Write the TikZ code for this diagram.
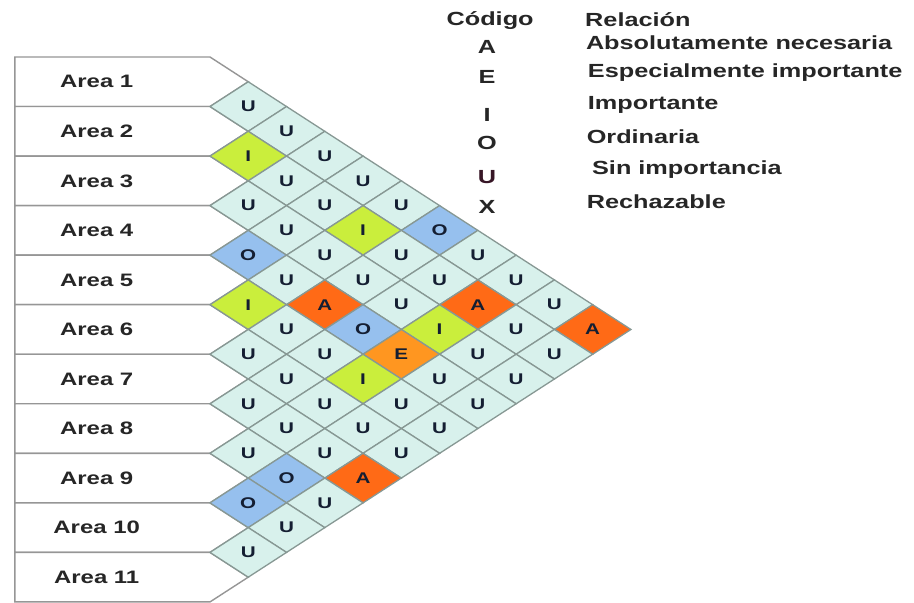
\documentclass[tikz,border=0pt]{standalone}
\usepackage{fontspec}
\setmainfont[FakeStretch=1.33]{Liberation Sans}
\usepackage{tikz}
\usetikzlibrary{shapes.geometric}
\definecolor{gridgray}{RGB}{135,152,148}
\definecolor{boxgray}{RGB}{150,150,150}
\definecolor{lettercol}{RGB}{20,30,50}
\definecolor{colA}{RGB}{255,106,22}
\definecolor{colE}{RGB}{255,150,32}
\definecolor{colI}{RGB}{202,238,60}
\definecolor{colO}{RGB}{150,192,238}
\definecolor{colU}{RGB}{216,241,236}
\tikzstyle{areabox} = [draw=boxgray, fill=white, line width=1.4pt, line join=miter]
\tikzstyle{arealabel} = [font={\fontsize{18}{18}\selectfont\bfseries}, text=black!85]
\tikzstyle{rel} = [diamond, draw=gridgray, line width=1.3pt, minimum width=76.54pt, minimum height=49.54pt, inner sep=0pt, outer sep=0pt, font={\fontsize{15.5}{15.5}\selectfont\bfseries}, text=lettercol]
\tikzstyle{codea} = [rel, fill=colA]
\tikzstyle{codee} = [rel, fill=colE]
\tikzstyle{codei} = [rel, fill=colI]
\tikzstyle{codeo} = [rel, fill=colO]
\tikzstyle{codeu} = [rel, fill=colU]
\tikzstyle{legend} = [inner sep=0pt, font={\fontsize{19}{19}\selectfont\bfseries}, text=black!85]

\begin{document}
\begin{tikzpicture}[x=38.27pt, y=-24.77pt]
        \useasboundingbox (-5.487,-2.301) rectangle (18.396,22.043);
        % areas
        \draw[areabox] (-5.1,0) -- (0,0) -- (1,1) -- (0,2) -- (-5.1,2) -- cycle;
        \draw[areabox] (-5.1,2) -- (0,2) -- (1,3) -- (0,4) -- (-5.1,4) -- cycle;
        \draw[areabox] (-5.1,4) -- (0,4) -- (1,5) -- (0,6) -- (-5.1,6) -- cycle;
        \draw[areabox] (-5.1,6) -- (0,6) -- (1,7) -- (0,8) -- (-5.1,8) -- cycle;
        \draw[areabox] (-5.1,8) -- (0,8) -- (1,9) -- (0,10) -- (-5.1,10) -- cycle;
        \draw[areabox] (-5.1,10) -- (0,10) -- (1,11) -- (0,12) -- (-5.1,12) -- cycle;
        \draw[areabox] (-5.1,12) -- (0,12) -- (1,13) -- (0,14) -- (-5.1,14) -- cycle;
        \draw[areabox] (-5.1,14) -- (0,14) -- (1,15) -- (0,16) -- (-5.1,16) -- cycle;
        \draw[areabox] (-5.1,16) -- (0,16) -- (1,17) -- (0,18) -- (-5.1,18) -- cycle;
        \draw[areabox] (-5.1,18) -- (0,18) -- (1,19) -- (0,20) -- (-5.1,20) -- cycle;
        \draw[areabox] (-5.1,20) -- (0,20) -- (1,21) -- (0,22) -- (-5.1,22) -- cycle;
        \node[arealabel](a1) at (-2.96,1){Area 1};
        \node[arealabel](a2) at (-2.96,3){Area 2};
        \node[arealabel](a3) at (-2.96,5){Area 3};
        \node[arealabel](a4) at (-2.96,7){Area 4};
        \node[arealabel](a5) at (-2.96,9){Area 5};
        \node[arealabel](a6) at (-2.96,11){Area 6};
        \node[arealabel](a7) at (-2.96,13){Area 7};
        \node[arealabel](a8) at (-2.96,15){Area 8};
        \node[arealabel](a9) at (-2.96,17){Area 9};
        \node[arealabel](a10) at (-2.96,19){Area 10};
        \node[arealabel](a11) at (-2.96,21){Area 11};
        % relations of area 1
        \node[codeu](r1-2) at (1,2){U};
        \node[codeu](r1-3) at (2,3){U};
        \node[codeu](r1-4) at (3,4){U};
        \node[codeu](r1-5) at (4,5){U};
        \node[codeu](r1-6) at (5,6){U};
        \node[codeo](r1-7) at (6,7){O};
        \node[codeu](r1-8) at (7,8){U};
        \node[codeu](r1-9) at (8,9){U};
        \node[codeu](r1-10) at (9,10){U};
        \node[codea](r1-11) at (10,11){A};
        % area 2
        \node[codei](r2-3) at (1,4){I};
        \node[codeu](r2-4) at (2,5){U};
        \node[codeu](r2-5) at (3,6){U};
        \node[codei](r2-6) at (4,7){I};
        \node[codeu](r2-7) at (5,8){U};
        \node[codeu](r2-8) at (6,9){U};
        \node[codea](r2-9) at (7,10){A};
        \node[codeu](r2-10) at (8,11){U};
        \node[codeu](r2-11) at (9,12){U};
        % area 3
        \node[codeu](r3-4) at (1,6){U};
        \node[codeu](r3-5) at (2,7){U};
        \node[codeu](r3-6) at (3,8){U};
        \node[codeu](r3-7) at (4,9){U};
        \node[codeu](r3-8) at (5,10){U};
        \node[codei](r3-9) at (6,11){I};
        \node[codeu](r3-10) at (7,12){U};
        \node[codeu](r3-11) at (8,13){U};
        % area 4
        \node[codeo](r4-5) at (1,8){O};
        \node[codeu](r4-6) at (2,9){U};
        \node[codea](r4-7) at (3,10){A};
        \node[codeo](r4-8) at (4,11){O};
        \node[codee](r4-9) at (5,12){E};
        \node[codeu](r4-10) at (6,13){U};
        \node[codeu](r4-11) at (7,14){U};
        % area 5
        \node[codei](r5-6) at (1,10){I};
        \node[codeu](r5-7) at (2,11){U};
        \node[codeu](r5-8) at (3,12){U};
        \node[codei](r5-9) at (4,13){I};
        \node[codeu](r5-10) at (5,14){U};
        \node[codeu](r5-11) at (6,15){U};
        % area 6
        \node[codeu](r6-7) at (1,12){U};
        \node[codeu](r6-8) at (2,13){U};
        \node[codeu](r6-9) at (3,14){U};
        \node[codeu](r6-10) at (4,15){U};
        \node[codeu](r6-11) at (5,16){U};
        % area 7
        \node[codeu](r7-8) at (1,14){U};
        \node[codeu](r7-9) at (2,15){U};
        \node[codeu](r7-10) at (3,16){U};
        \node[codea](r7-11) at (4,17){A};
        % areas 8 to 10
        \node[codeu](r8-9) at (1,16){U};
        \node[codeo](r8-10) at (2,17){O};
        \node[codeu](r8-11) at (3,18){U};
        \node[codeo](r9-10) at (1,18){O};
        \node[codeu](r9-11) at (2,19){U};
        \node[codeu](r10-11) at (1,20){U};
        % legend
        \node[legend](cod) at (7.32,-1.49){Código};
        \node[legend](ca) at (7.24,-0.40){A};
        \node[legend](ce) at (7.24,0.81){E};
        \node[legend](ci) at (7.24,2.34){I};
        \node[legend](co) at (7.24,3.47){O};
        \node[legend,text={rgb,255:red,55;green,22;blue,38}](cu) at (7.24,4.84){U};
        \node[legend](cx) at (7.24,6.05){X};
        \node[legend,anchor=west](rel) at (9.80,-1.49){Relación};
        \node[legend,anchor=west](ra) at (9.82,-0.57){Absolutamente necesaria};
        \node[legend,anchor=west](re) at (9.87,0.61){Especialmente importante};
        \node[legend,anchor=west](ri) at (9.87,1.94){Importante};
        \node[legend,anchor=west](ro) at (9.84,3.23){Ordinaria};
        \node[legend,anchor=west](ru) at (9.98,4.56){Sin importancia};
        \node[legend,anchor=west](rx) at (9.84,5.85){Rechazable};
      \end{tikzpicture}
\end{document}
